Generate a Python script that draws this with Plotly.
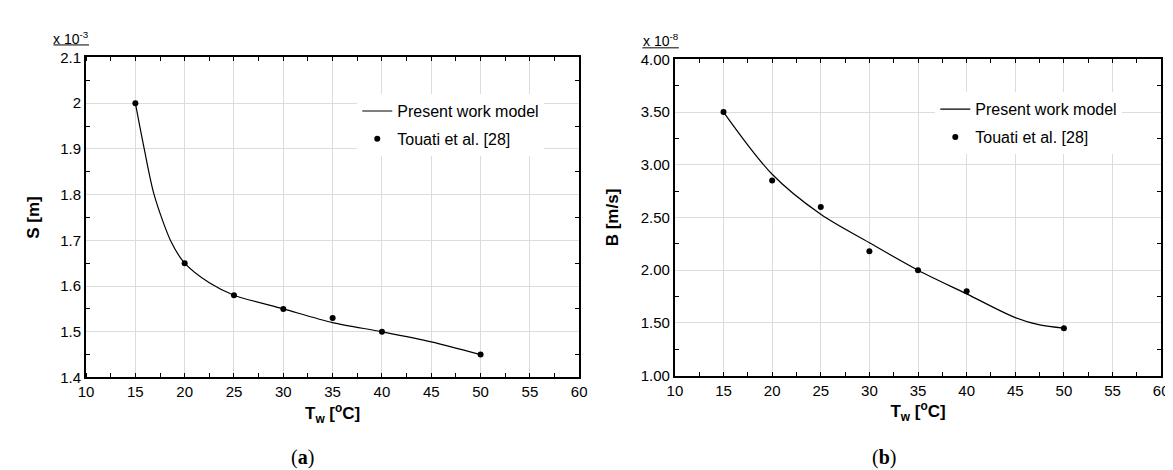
import plotly.graph_objects as go

W, H = 1173, 470

# ---- data (a): S [m] x 1e-3 ----
tw_pts = [15, 20, 25, 30, 35, 40, 50]
s_pts = [2.00, 1.65, 1.58, 1.55, 1.53, 1.50, 1.45]
tw_model_a = [15, 15.9, 16.9, 18.6, 20, 22.5, 25, 30, 35, 40, 45, 50]
s_model = [2.00, 1.90, 1.80, 1.698, 1.65, 1.607, 1.58, 1.55, 1.52, 1.50, 1.478, 1.45]

# ---- data (b): B [m/s] x 1e-8 ----
b_pts = [3.50, 2.85, 2.60, 2.18, 2.00, 1.80, 1.45]
tw_model_b = [15, 20, 25, 30, 35, 40, 45, 47.5, 50]
b_model = [3.50, 2.91, 2.53, 2.26, 2.00, 1.775, 1.55, 1.48, 1.45]

x_ticks = [10, 15, 20, 25, 30, 35, 40, 45, 50, 55, 60]

FONT = "Liberation Sans, Arial, sans-serif"


def px_x(p):
    return p / W


def px_y(p):
    return 1 - p / H


fig = go.Figure()

# panel a
fig.add_trace(go.Scatter(x=tw_model_a, y=s_model, mode="lines",
                         line=dict(color="black", width=1.2, shape="spline", smoothing=0.8),
                         name="Present work model", xaxis="x", yaxis="y", legend="legend", legendgroup="a1"))
fig.add_trace(go.Scatter(x=tw_pts, y=s_pts, mode="markers", marker=dict(color="black", size=6),
                         name="Touati et al. [28]", xaxis="x", yaxis="y", legend="legend", legendgroup="a2"))
# panel b
fig.add_trace(go.Scatter(x=tw_model_b, y=b_model, mode="lines",
                         line=dict(color="black", width=1.2, shape="spline", smoothing=0.9),
                         name="Present work model", xaxis="x2", yaxis="y2", legend="legend2", legendgroup="b1"))
fig.add_trace(go.Scatter(x=tw_pts, y=b_pts, mode="markers", marker=dict(color="black", size=6),
                         name="Touati et al. [28]", xaxis="x2", yaxis="y2", legend="legend2", legendgroup="b2"))

xtitle = "<b>T<sub>w</sub> [<sup>o</sup>C]</b>"


def xaxis_cfg(dom, anchor):
    return dict(domain=dom, anchor=anchor, range=[10, 60], tickvals=x_ticks, showgrid=True,
                gridcolor="#dcdcdc", gridwidth=1,
                showline=True, linecolor="black", linewidth=2, mirror="allticks", ticks="",
                minor=dict(ticks="inside", ticklen=4, tickwidth=1, tickcolor="black", dtick=2.5, tick0=12.5,
                           showgrid=False),
                tickfont=dict(size=15, color="black", family=FONT), zeroline=False,
                title=dict(text=xtitle, font=dict(size=17, color="black", family=FONT), standoff=8))


def yaxis_cfg(dom, anchor, rng, dtick, mdtick, fmt, title, standoff):
    return dict(domain=dom, anchor=anchor, range=rng, dtick=dtick, tick0=rng[0], tickformat=fmt, showgrid=True,
                gridcolor="#dcdcdc", gridwidth=1,
                showline=True, linecolor="black", linewidth=2, mirror="allticks", ticks="",
                minor=dict(ticks="inside", ticklen=4, tickwidth=1, tickcolor="black", dtick=mdtick, tick0=rng[0],
                           showgrid=False),
                tickfont=dict(size=15, color="black", family=FONT), zeroline=False, ticklabelstandoff=0,
                title=dict(text=title, font=dict(size=17, color="black", family=FONT), standoff=standoff))


fig.update_layout(
    width=W, height=H, margin=dict(l=0, r=0, t=0, b=0),
    paper_bgcolor="white", plot_bgcolor="white",
    font=dict(family=FONT, color="black"),
    xaxis=xaxis_cfg([px_x(71), px_x(571)], "y"),
    yaxis=yaxis_cfg([px_y(374), px_y(42)], "x", [1.4, 2.1], 0.1, 0.05, "", "<b>S [m]</b>", 16),
    xaxis2=xaxis_cfg([px_x(668), px_x(1161)], "y2"),
    yaxis2=yaxis_cfg([px_y(372), px_y(44)], "x2", [1.0, 4.0], 0.5, 0.25, ".2f", "<b>B [m/s]</b>", 18),
    showlegend=True,
    legend=dict(x=px_x(346), y=px_y(80), xanchor="left", yanchor="top", xref="paper", yref="paper",
                bgcolor="white", borderwidth=0, font=dict(size=16, family=FONT, color="black"),
                traceorder="grouped", tracegroupgap=4, itemwidth=30),
    legend2=dict(x=px_x(932), y=px_y(78), xanchor="left", yanchor="top", xref="paper", yref="paper",
                 bgcolor="white", borderwidth=0, font=dict(size=16, family=FONT, color="black"),
                 traceorder="grouped", tracegroupgap=4, itemwidth=30),
)

# multiplier labels
for (cx, cy, txt, x0, x1, ly) in [(56, 22, "x 10<sup>-3</sup>", 38, 74, 29),
                                  (654, 24, "x 10<sup>-8</sup>", 635, 672, 32)]:
    fig.add_annotation(x=px_x(cx), y=px_y(cy), xref="paper", yref="paper", text=txt, showarrow=False,
                       font=dict(size=14, family=FONT, color="black"), xanchor="center", yanchor="middle")
    fig.add_shape(type="line", xref="paper", yref="paper", x0=px_x(x0), x1=px_x(x1), y0=px_y(ly), y1=px_y(ly),
                  line=dict(color="black", width=1))

# captions
for cx, lab in [(290, "a"), (880, "b")]:
    fig.add_annotation(x=px_x(cx), y=px_y(457), xref="paper", yref="paper", text="(<b>%s</b>)" % lab,
                       showarrow=False, font=dict(size=20, family="Liberation Serif, serif", color="black"),
                       xanchor="center", yanchor="middle")

fig.write_html("out.html")
